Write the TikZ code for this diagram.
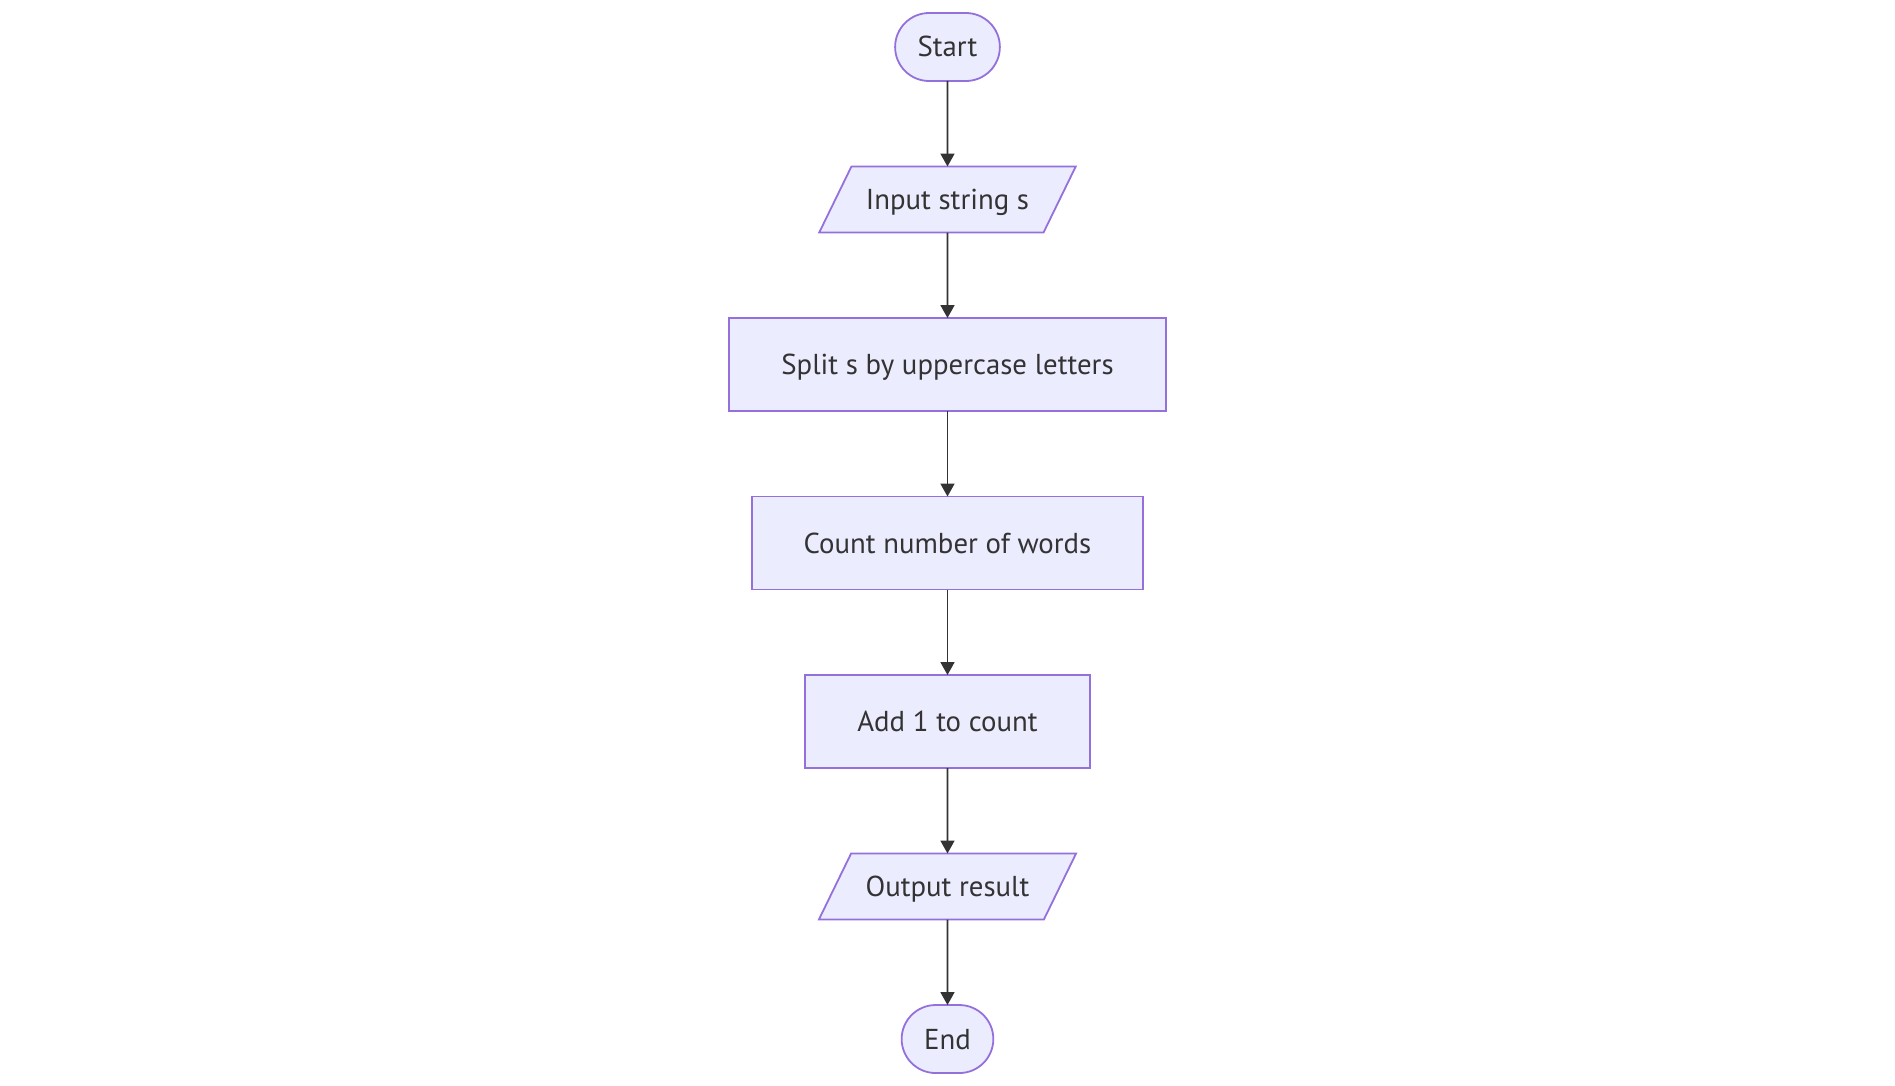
\documentclass[tikz,border=0pt]{standalone}
\usepackage{fontspec}
\setmainfont{PT Sans}
\usepackage{tikz}
\usetikzlibrary{arrows.meta,shapes.geometric,positioning}
\definecolor{mmfill}{HTML}{ECECFF}
\definecolor{mmline}{HTML}{9370DB}
\definecolor{mmtext}{HTML}{333333}
\tikzstyle{base} = [draw=mmline, fill=mmfill, line width=0.9pt, text=mmtext,
    font=\fontsize{14.4}{17}\selectfont, text height=11pt, text depth=1pt,
    outer sep=0pt]
\tikzstyle{terminal} = [base, rectangle, rounded corners=17pt,
    minimum height=34pt, inner xsep=11.25pt]
\tikzstyle{io} = [base, trapezium, trapezium left angle=64,
    trapezium right angle=116, inner ysep=10.5pt, inner xsep=7.25pt]
\tikzstyle{process} = [base, rectangle, minimum height=46.5pt, inner xsep=26pt]
\tikzstyle{line} = [draw=mmtext, line width=0.9pt,
    -{Triangle[length=6.5pt,width=7pt]}]

\begin{document}
\begin{tikzpicture}[node distance = 42.75pt]
  \useasboundingbox (-473.75pt,23.5pt) rectangle (473.75pt,-519.5pt);
  % Place nodes
  \node [terminal] (start) at (0,0) {Start};
  \node [io, below=of start] (input) {Input string s};
  \node [process, below=of input] (split) {Split s by uppercase letters};
  \node [process, below=of split] (count) {Count number of words};
  \node [process, below=of count] (add) {Add 1 to count};
  \node [io, below=of add] (output) {Output result};
  \node [terminal, below=of output] (stop) {End};
  % Draw edges
  \draw [line] (start) -- (input);
  \draw [line] (input) -- (split);
  \draw [line] (split) -- (count);
  \draw [line] (count) -- (add);
  \draw [line] (add) -- (output);
  \draw [line] (output) -- (stop);
\end{tikzpicture}
\end{document}
